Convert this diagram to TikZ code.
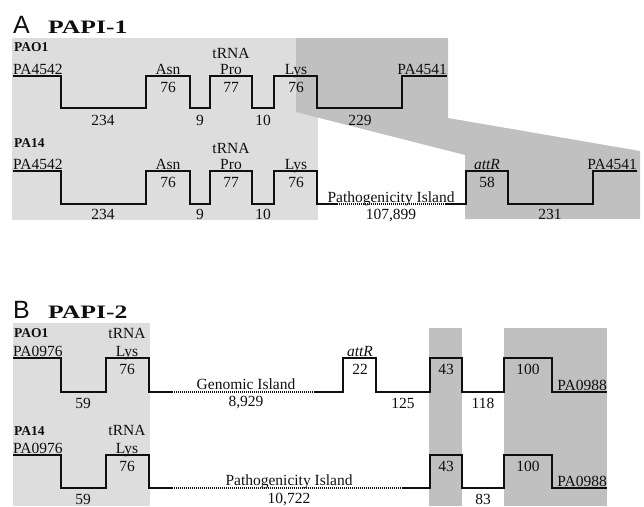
\documentclass[tikz,border=0pt]{standalone}
\usepackage{fontspec}
\setmainfont{Liberation Serif}
\newfontfamily\panelfont{Liberation Sans}
\newfontfamily\papifont[FakeStretch=1.35]{Liberation Serif}
\usetikzlibrary{
  positioning,
  backgrounds
}
\definecolor{lightbox}{RGB}{221, 221, 221}
\definecolor{darkbox}{RGB}{192, 192, 192}
\definecolor{genecolor}{RGB}{15, 15, 15}
\tikzset{
genetext/.style={
  font=\fontsize{15.5}{17}\selectfont,
  text=genecolor,
  inner sep=0pt,
  anchor=base
},
straintext/.style={
  genetext,
  font=\fontsize{13.5}{15}\selectfont\bfseries,
  anchor=base west
},
locustext/.style={
  genetext,
  anchor=base west
},
locusright/.style={
  genetext,
  anchor=base east
},
panelletter/.style={
  font=\fontsize{25}{27}\selectfont\panelfont,
  text=genecolor,
  inner sep=0pt,
  anchor=base west
},
papititle/.style={
  font=\fontsize{19}{21}\selectfont\papifont\bfseries,
  text=genecolor,
  inner sep=0pt,
  anchor=base west
},
geneline/.style={
  draw=genecolor,
  line width=2.6pt,
  line join=miter
},
islandline/.style={
  draw=genecolor,
  line width=2pt,
  dash pattern=on 1pt off 1pt
}
}
\begin{document}
\begin{tikzpicture}[x=1pt,y=-1pt]
\useasboundingbox (0,0) rectangle (644,506);
% shaded regions
\fill[lightbox] (12,38) rectangle (318,220);
\fill[darkbox] (296,38) -- (448,38) -- (448,118) -- (640,151) -- (640,219)
  -- (465,219) -- (465,155) -- (296,112) -- cycle;
\fill[lightbox] (13,323) rectangle (150,506);
\fill[darkbox] (429,328) rectangle (462,506);
\fill[darkbox] (504,328) rectangle (607,506);

% A: PAPI-1
\node[panelletter] (letA) at (13,33) {A};
\node[papititle] (titleA) at (48,33) {PAPI-1};
\node[straintext] (paoA) at (14,51) {PAO1};
\draw[geneline] (13,76) -| (61,108) -| (146,76) -| (190,108) -| (210,76)
  -| (252,108) -| (274,76) -| (317,108) -| (402,76) -- (447,76);
\node[locustext] (leftA1) at (13,74) {PA4542};
\node[genetext] (asnA1) at (168,74) {Asn};
\node[genetext] (asnlenA1) at (168,92) {76};
\node[genetext] (trnaA1) at (231,58) {tRNA};
\node[genetext] (proA1) at (231,74) {Pro};
\node[genetext] (prolenA1) at (231,92) {77};
\node[genetext] (lysA1) at (296,74) {Lys};
\node[genetext] (lyslenA1) at (296,92) {76};
\node[genetext] (gapA1a) at (103,125) {234};
\node[genetext] (gapA1b) at (200,125) {9};
\node[genetext] (gapA1c) at (263,125) {10};
\node[genetext] (gapA1d) at (360,125) {229};
\node[locusright] (rightA1) at (447,74) {PA4541};

\node[straintext] (paA) at (14,147) {PA14};
\draw[geneline] (13,171) -| (61,204) -| (146,171) -| (190,204) -| (210,171)
  -| (252,204) -| (274,171) -| (317,204) -- (337,204);
\draw[islandline] (337,204) -- (445,204);
\draw[geneline] (445,204) -| (466,171) -| (508,204) -| (593,171) -- (637,171);
\node[locustext] (leftA2) at (13,169) {PA4542};
\node[genetext] (asnA2) at (168,169) {Asn};
\node[genetext] (asnlenA2) at (168,187) {76};
\node[genetext] (trnaA2) at (231,153) {tRNA};
\node[genetext] (proA2) at (231,169) {Pro};
\node[genetext] (prolenA2) at (231,187) {77};
\node[genetext] (lysA2) at (296,169) {Lys};
\node[genetext] (lyslenA2) at (296,187) {76};
\node[genetext] (gapA2a) at (103,219) {234};
\node[genetext] (gapA2b) at (200,219) {9};
\node[genetext] (gapA2c) at (263,219) {10};
\node[genetext] (islA2) at (391,202) {Pathogenicity Island};
\node[genetext] (isllenA2) at (391,219) {107,899};
\node[genetext] (attA2) at (487,169) {\itshape attR};
\node[genetext] (attlenA2) at (487,187) {58};
\node[genetext] (gapA2d) at (550,219) {231};
\node[locusright] (rightA2) at (637,169) {PA4541};

% B: PAPI-2
\node[panelletter] (letB) at (13,318) {B};
\node[papititle] (titleB) at (48,318) {PAPI-2};
\node[straintext] (paoB) at (14,337) {PAO1};
\draw[geneline] (13,358) -| (61,392) -| (106,358) -| (149,392) -- (172,392);
\draw[islandline] (172,392) -- (315,392);
\draw[geneline] (315,392) -| (343,358) -| (376,392) -| (430,358) -| (462,392)
  -| (504,358) -| (552,392) -- (607,392);
\node[locustext] (leftB1) at (13,356) {PA0976};
\node[genetext] (trnaB1) at (127,338) {tRNA};
\node[genetext] (lysB1) at (127,356) {Lys};
\node[genetext] (lyslenB1) at (127,374) {76};
\node[genetext] (gapB1a) at (83,408) {59};
\node[genetext] (islB1) at (246,389) {Genomic Island};
\node[genetext] (isllenB1) at (246,406) {8,929};
\node[genetext] (attB1) at (360,356) {\itshape attR};
\node[genetext] (attlenB1) at (360,374) {22};
\node[genetext] (gapB1b) at (403,408) {125};
\node[genetext] (boxB1a) at (446,374) {43};
\node[genetext] (gapB1c) at (483,408) {118};
\node[genetext] (boxB1b) at (528,374) {100};
\node[locusright] (rightB1) at (607,390) {PA0988};

\node[straintext] (paB) at (14,435) {PA14};
\draw[geneline] (13,455) -| (61,488) -| (106,455) -| (149,488) -- (172,488);
\draw[islandline] (172,488) -- (403,488);
\draw[geneline] (403,488) -| (430,455) -| (462,488) -| (504,455) -| (552,488)
  -- (607,488);
\node[locustext] (leftB2) at (13,453) {PA0976};
\node[genetext] (trnaB2) at (127,435) {tRNA};
\node[genetext] (lysB2) at (127,453) {Lys};
\node[genetext] (lyslenB2) at (127,471) {76};
\node[genetext] (gapB2a) at (83,504) {59};
\node[genetext] (islB2) at (289,485) {Pathogenicity Island};
\node[genetext] (isllenB2) at (289,503) {10,722};
\node[genetext] (boxB2a) at (446,471) {43};
\node[genetext] (gapB2b) at (483,504) {83};
\node[genetext] (boxB2b) at (528,471) {100};
\node[locusright] (rightB2) at (607,486) {PA0988};
\end{tikzpicture}
\end{document}
